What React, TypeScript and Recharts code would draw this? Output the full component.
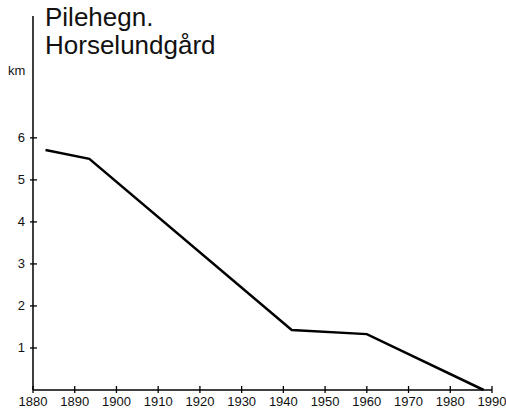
import { LineChart, Line, XAxis, YAxis } from 'recharts';

const years = [1883, 1893.5, 1942, 1960, 1988];
const km = [5.71, 5.5, 1.43, 1.33, 0];
const yearTicks = [1880, 1890, 1900, 1910, 1920, 1930, 1940, 1950, 1960, 1970, 1980, 1990];
const kmTicks = [1, 2, 3, 4, 5, 6];
const titleLines = ['Pilehegn.', 'Horselundgård'];
const unitLabel = 'km';

const data = years.map((year, i) => ({ year, km: km[i] }));

const font = '"Liberation Sans", Arial, Helvetica, sans-serif';

const XTick = ({ x, y, payload }: any) => (
  <g>
    <line x1={x} x2={x} y1={y - 4} y2={y + 3} stroke="#000" strokeWidth={1.3} />
    <text x={x} y={y + 16} textAnchor="middle" fontSize={13} fontFamily={font} fill="#111">
      {payload.value}
    </text>
  </g>
);

const YTick = ({ x, y, payload }: any) => (
  <g>
    <line x1={x - 3} x2={x + 4} y1={y} y2={y} stroke="#000" strokeWidth={1.3} />
    <text x={x - 8} y={y + 4.5} textAnchor="end" fontSize={13} fontFamily={font} fill="#111">
      {payload.value}
    </text>
  </g>
);

export default function App() {
  return (
    <div style={{ position: 'absolute', left: 0, top: 0, width: 506, height: 410, background: '#fff' }}>
      <LineChart width={506} height={410} data={data} margin={{ top: 16, right: 14, bottom: 0, left: 0 }}>
        <XAxis
          dataKey="year"
          type="number"
          domain={[1880, 1990]}
          ticks={yearTicks}
          interval={0}
          height={20}
          tickSize={0}
          tickMargin={0}
          tickLine={false}
          axisLine={{ stroke: '#000', strokeWidth: 1.5 }}
          tick={<XTick />}
        />
        <YAxis
          type="number"
          domain={[0, 8.9]}
          ticks={kmTicks}
          interval={0}
          width={33}
          tickSize={0}
          tickMargin={0}
          tickLine={false}
          axisLine={{ stroke: '#000', strokeWidth: 1.5 }}
          tick={<YTick />}
        />
        <Line
          dataKey="km"
          type="linear"
          stroke="#000"
          strokeWidth={2.5}
          dot={false}
          isAnimationActive={false}
        />
      </LineChart>
      <div
        style={{
          position: 'absolute',
          left: 45,
          top: 3,
          fontFamily: font,
          fontSize: 26,
          lineHeight: '28px',
          color: '#111',
        }}
      >
        {titleLines.map((t) => (
          <div key={t}>{t}</div>
        ))}
      </div>
      <div
        style={{
          position: 'absolute',
          left: 8,
          top: 63,
          fontFamily: font,
          fontSize: 13,
          lineHeight: '15px',
          color: '#111',
        }}
      >
        {unitLabel}
      </div>
    </div>
  );
}
